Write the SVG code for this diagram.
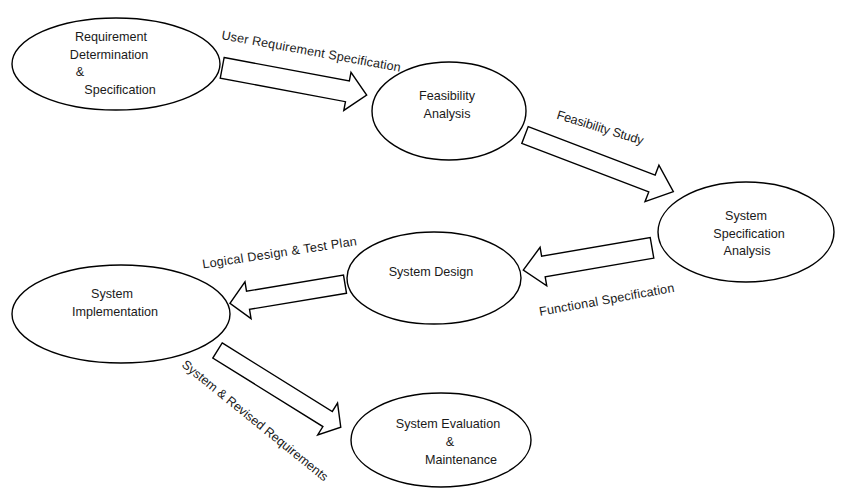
<svg xmlns="http://www.w3.org/2000/svg" width="845" height="500" viewBox="0 0 845 500">
<style>
.node ellipse{fill:#fff;stroke:#000;stroke-width:1.4}
.node text{font-family:"Liberation Sans",Arial,sans-serif;font-size:12.6px;fill:#1a1a1a;text-anchor:middle}
.arrow{fill:#fff;stroke:#000;stroke-width:1.4;stroke-linejoin:miter}
.lbl{font-family:"Liberation Sans",Arial,sans-serif;font-size:12.6px;fill:#1a1a1a}
</style>
<rect width="845" height="500" fill="#fff"/>
<g id="connectors">
<polygon class="arrow" transform="translate(222.2,67.8) rotate(10.66)" points="0,-10.5 127.4,-10.5 127.4,-19.4 147,0 127.4,19.4 127.4,10.5 0,10.5"/>
<polygon class="arrow" transform="translate(525,135) rotate(20.9)" points="0,-9 135.9,-9 135.9,-19.5 158.8,0 135.9,19.5 135.9,9 0,9"/>
<polygon class="arrow" transform="translate(652,247.8) rotate(170.2)" points="0,-10.5 110.2,-10.5 110.2,-19.5 130.6,0 110.2,19.5 110.2,10.5 0,10.5"/>
<polygon class="arrow" transform="translate(345,284.2) rotate(170.6)" points="0,-9.2 98.3,-9.2 98.3,-18.6 116.6,0 98.3,18.6 98.3,9.2 0,9.2"/>
<polygon class="arrow" transform="translate(217.5,350.5) rotate(31.9)" points="0,-8.9 129.7,-8.9 129.7,-18.8 145.2,0 129.7,18.8 129.7,8.9 0,8.9"/>
<text class="lbl" transform="translate(221,39) rotate(10.4)" textLength="182" lengthAdjust="spacing">User Requirement Specification</text>
<text class="lbl" transform="translate(556,118.5) rotate(17)" textLength="90" lengthAdjust="spacing">Feasibility Study</text>
<text class="lbl" transform="translate(540,316) rotate(-10.2)" textLength="137" lengthAdjust="spacing">Functional Specification</text>
<text class="lbl" transform="translate(203,268.5) rotate(-8.6)" textLength="156" lengthAdjust="spacing">Logical Design &amp; Test Plan</text>
<text class="lbl" transform="translate(181,366) rotate(39)" textLength="184" lengthAdjust="spacing">System &amp; Revised Requirements</text>
</g>
<g id="node-requirement" class="node">
<ellipse cx="116" cy="64" rx="104" ry="46"/>
<text x="111" y="41">Requirement</text>
<text x="109" y="58.5">Determination</text>
<text x="80" y="76">&amp;</text>
<text x="120" y="93.5">Specification</text>
</g>
<g id="node-feasibility" class="node">
<ellipse cx="449" cy="111" rx="77" ry="49"/>
<text x="447" y="99.5">Feasibility</text>
<text x="447" y="117.5">Analysis</text>
</g>
<g id="node-specification" class="node">
<ellipse cx="746" cy="232" rx="88" ry="50"/>
<text x="746" y="220">System</text>
<text x="749" y="237.5">Specification</text>
<text x="747" y="255">Analysis</text>
</g>
<g id="node-design" class="node">
<ellipse cx="434" cy="278" rx="87" ry="46"/>
<text x="431" y="276">System Design</text>
</g>
<g id="node-implementation" class="node">
<ellipse cx="121" cy="314" rx="109" ry="49"/>
<text x="112" y="298">System</text>
<text x="115" y="316">Implementation</text>
</g>
<g id="node-evaluation" class="node">
<ellipse cx="441" cy="440" rx="90" ry="47"/>
<text x="448" y="427.5">System Evaluation</text>
<text x="450" y="446">&amp;</text>
<text x="461" y="463.5">Maintenance</text>
</g>
</svg>
